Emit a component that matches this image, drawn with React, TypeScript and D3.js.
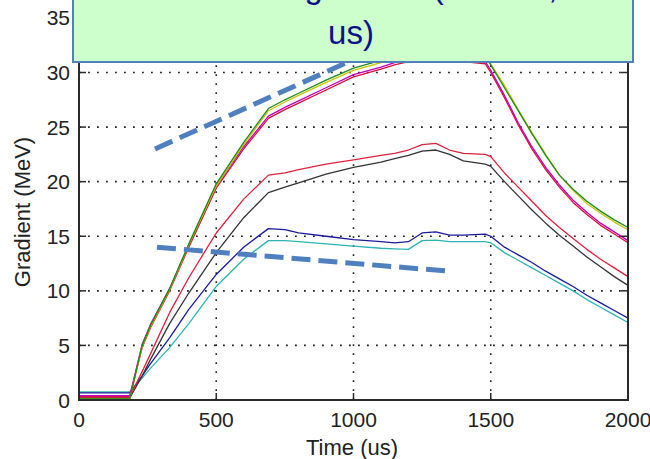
import React from "react";
import * as d3 from "d3";

// ---- data ----
const TIME = [0, 185, 230, 260, 330, 400, 500, 600, 690, 750, 800, 900, 1000, 1100, 1150, 1200, 1250, 1300, 1350, 1400, 1480, 1500, 1550, 1600, 1650, 1700, 1750, 1800, 1850, 1900, 1950, 2000];

const GREEN = [0.1, 0.1, 5.0, 6.8, 10.2, 14.3, 19.8, 23.6, 26.7, 27.5, 28.1, 29.3, 30.4, 31.1, 31.5, 31.8, 32.1, 32.2, 32.0, 31.8, 31.6, 30.7, 28.6, 26.5, 24.4, 22.4, 20.6, 19.3, 18.2, 17.3, 16.5, 15.8];
const YELLOW = [0.1, 0.1, 4.9, 6.7, 10.1, 14.2, 19.6, 23.4, 26.5, 27.3, 27.9, 29.1, 30.2, 30.9, 31.3, 31.6, 31.9, 32.0, 31.8, 31.6, 31.4, 30.8, 28.8, 26.6, 24.5, 22.5, 20.6, 19.2, 18.0, 17.1, 16.3, 15.6];
const MAGENTA = [0.4, 0.4, 5.1, 6.9, 10.2, 14.2, 19.6, 23.2, 26.0, 26.8, 27.4, 28.6, 29.8, 30.5, 30.9, 31.2, 31.4, 31.4, 31.3, 31.2, 31.0, 30.2, 27.9, 25.4, 23.2, 21.3, 19.7, 18.3, 17.2, 16.2, 15.4, 14.6];
const RED_TOP = [0.3, 0.3, 4.8, 6.6, 10.0, 14.0, 19.4, 23.0, 25.8, 26.6, 27.2, 28.4, 29.6, 30.3, 30.7, 31.0, 31.2, 31.2, 31.1, 31.0, 30.8, 30.0, 27.7, 25.2, 23.0, 21.1, 19.5, 18.1, 17.0, 16.0, 15.2, 14.4];
const RED_MID = [0.3, 0.3, 2.6, 4.2, 8.0, 11.2, 15.3, 18.4, 20.6, 20.8, 21.1, 21.6, 22.0, 22.4, 22.6, 22.9, 23.4, 23.5, 22.9, 22.6, 22.5, 22.3, 20.8, 19.5, 18.2, 16.9, 15.8, 14.8, 13.8, 12.9, 12.1, 11.3];
const BLACK = [0.2, 0.2, 2.2, 3.7, 7.0, 9.8, 13.5, 16.7, 19.0, 19.5, 19.9, 20.7, 21.3, 21.8, 22.1, 22.4, 22.8, 22.9, 22.5, 21.9, 21.6, 21.4, 20.0, 18.7, 17.4, 16.2, 15.1, 14.1, 13.1, 12.2, 11.3, 10.5];
const BLUE = [0.65, 0.65, 2.2, 3.3, 5.7, 8.3, 11.5, 14.0, 15.7, 15.6, 15.3, 15.0, 14.7, 14.5, 14.4, 14.5, 15.3, 15.4, 15.1, 15.1, 15.2, 15.0, 14.0, 13.3, 12.6, 11.8, 11.1, 10.4, 9.6, 8.9, 8.2, 7.5];
const CYAN = [0.75, 0.75, 2.0, 2.9, 4.8, 7.0, 10.4, 12.9, 14.6, 14.6, 14.5, 14.3, 14.1, 13.9, 13.85, 13.8, 14.6, 14.65, 14.5, 14.5, 14.5, 14.4, 13.5, 12.8, 12.1, 11.4, 10.7, 10.0, 9.2, 8.5, 7.8, 7.1];

const SERIES = [CYAN, BLUE, BLACK, RED_MID, RED_TOP, MAGENTA, YELLOW, GREEN];
const SERIES_COLORS = ["#2cb4b4", "#1a1a9c", "#333333", "#e0203c", "#d8103a", "#c000b8", "#c8c400", "#1c8a1c"];

const X_TICKS = [0, 500, 1000, 1500, 2000];
const Y_TICKS = [0, 5, 10, 15, 20, 25, 30, 35];

// annotation dashed lines, in data units [time, gradient]
const TREND_UPPER = [[277, 23.0], [1010, 31.3]];
const TREND_LOWER = [[284, 14.0], [1348, 11.8]];

const X_LABEL = "Time (us)";
const Y_LABEL = "Gradient (MeV)";
const BOX_LINE1 = "Measured gradient (MeV/m,";
const BOX_LINE2 = "us)";

export default function App() {
  const W = 650, H = 459;
  const left = 79, right = 628, bottom = 400;
  const x = d3.scaleLinear().domain([0, 2000]).range([left, right]);
  const y = d3.scaleLinear().domain([0, 30]).range([bottom, 72.5]);
  const top = y(35);

  const line = d3.line<number>()
    .x((_, i) => x(TIME[i]))
    .y((d) => y(d));

  const font = "'Liberation Sans', Arial, sans-serif";
  const dotted = "1.8 7.2";

  return (
    <svg width={W} height={H} style={{ position: "absolute", left: 0, top: 0, background: "#fff" }}>
      <rect x={0} y={0} width={W} height={H} fill="#fff" />
      {/* grid */}
      {X_TICKS.filter((t) => t > 0 && t < 2000).map((t) => (
        <line key={"gx" + t} x1={x(t)} x2={x(t)} y1={bottom} y2={top} stroke="#222" strokeWidth={1.6} strokeDasharray={dotted} />
      ))}
      {Y_TICKS.filter((v) => v > 0 && v < 35).map((v) => (
        <line key={"gy" + v} x1={left} x2={right} y1={y(v)} y2={y(v)} stroke="#222" strokeWidth={1.6} strokeDasharray={dotted} />
      ))}
      {/* series */}
      {SERIES.map((s, i) => (
        <path key={"s" + i} d={line(s) || ""} fill="none" stroke={SERIES_COLORS[i]} strokeWidth={1.3} strokeLinejoin="round" />
      ))}
      {/* axes box */}
      <rect x={left} y={top} width={right - left} height={bottom - top} fill="none" stroke="#2a2a2a" strokeWidth={2} />
      {X_TICKS.map((t) => (
        <g key={"tx" + t}>
          <line x1={x(t)} x2={x(t)} y1={bottom} y2={bottom - 7} stroke="#2a2a2a" strokeWidth={1.5} />
          <line x1={x(t)} x2={x(t)} y1={top} y2={top + 7} stroke="#2a2a2a" strokeWidth={1.5} />
          <text x={x(t)} y={427} textAnchor="middle" fontFamily={font} fontSize={21} fill="#222">{t}</text>
        </g>
      ))}
      {Y_TICKS.map((v) => (
        <g key={"ty" + v}>
          <line x1={left} x2={left + 7} y1={y(v)} y2={y(v)} stroke="#2a2a2a" strokeWidth={1.5} />
          <line x1={right} x2={right - 7} y1={y(v)} y2={y(v)} stroke="#2a2a2a" strokeWidth={1.5} />
          <text x={70} y={y(v) + 7.5} textAnchor="end" fontFamily={font} fontSize={21} fill="#222">{v}</text>
        </g>
      ))}
      <text x={352} y={455} textAnchor="middle" fontFamily={font} fontSize={22} fill="#222">{X_LABEL}</text>
      <text transform={`translate(30,212) rotate(-90)`} textAnchor="middle" fontFamily={font} fontSize={22} fill="#222">{Y_LABEL}</text>
      {/* annotation dashed lines */}
      {[TREND_UPPER, TREND_LOWER].map((seg, i) => (
        <line key={"tr" + i} x1={x(seg[0][0])} y1={y(seg[0][1])} x2={x(seg[1][0])} y2={y(seg[1][1])}
          stroke="#4f7fbf" strokeWidth={5} strokeDasharray="19 8" />
      ))}
      {/* callout box */}
      <rect x={73} y={-20} width={560} height={82} fill="#ccffcc" stroke="#4f81bd" strokeWidth={2} />
      <text x={353} y={-2} textAnchor="middle" fontFamily={font} fontSize={33} fill="#10108a">{BOX_LINE1}</text>
      <text x={351} y={44} textAnchor="middle" fontFamily={font} fontSize={33} fill="#10108a">{BOX_LINE2}</text>
    </svg>
  );
}
